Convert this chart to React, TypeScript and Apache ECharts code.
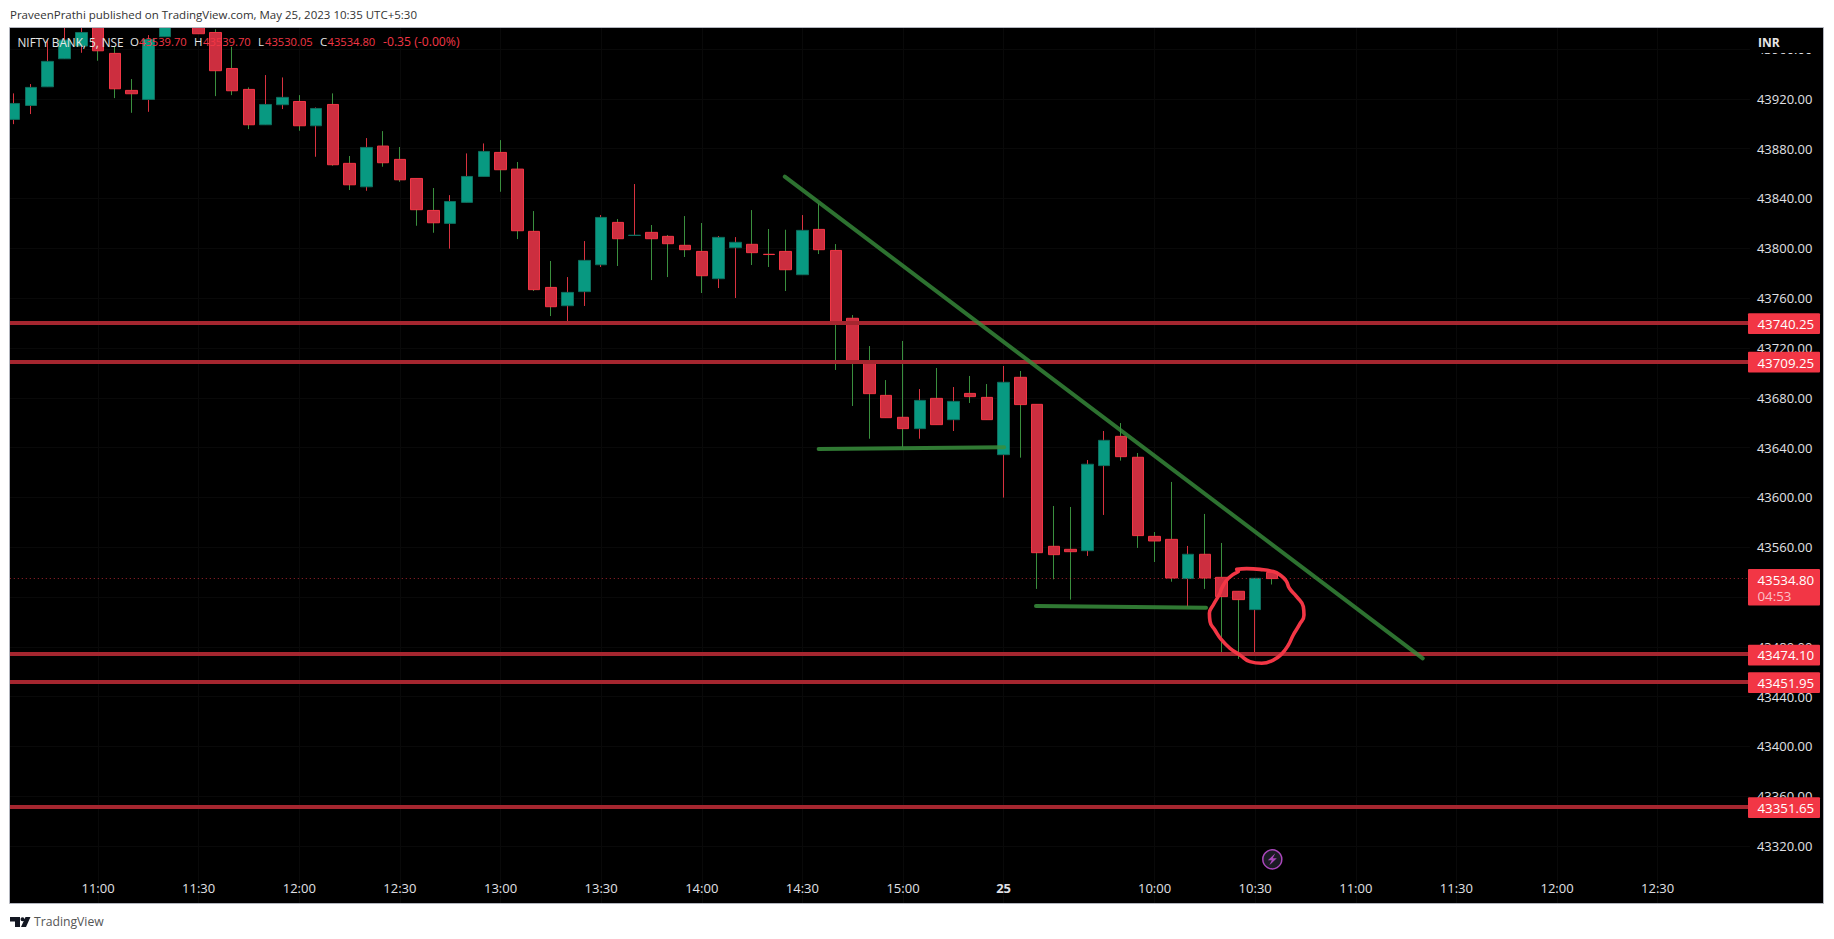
import { useEffect, useRef } from 'react';
import * as echarts from 'echarts';

const categories = [
  '10:35', '10:40', '10:45', '10:50', '10:55', '11:00', '11:05', '11:10', '11:15', '11:20', '11:25', '11:30',
  '11:35', '11:40', '11:45', '11:50', '11:55', '12:00', '12:05', '12:10', '12:15', '12:20', '12:25', '12:30',
  '12:35', '12:40', '12:45', '12:50', '12:55', '13:00', '13:05', '13:10', '13:15', '13:20', '13:25', '13:30',
  '13:35', '13:40', '13:45', '13:50', '13:55', '14:00', '14:05', '14:10', '14:15', '14:20', '14:25', '14:30',
  '14:35', '14:40', '14:45', '14:50', '14:55', '15:00', '15:05', '15:10', '15:15', '15:20', '15:25',
  '25', '09:20', '09:25', '09:30', '09:35', '09:40', '09:45', '09:50', '09:55', '10:00', '10:05', '10:10',
  '10:15', '10:20', '10:25', '10:30', '10:35', '10:40', '10:45', '10:50', '10:55', '11:00', '11:05', '11:10',
  '11:15', '11:20', '11:25', '11:30', '11:35', '11:40', '11:45', '11:50', '11:55', '12:00', '12:05', '12:10',
  '12:15', '12:20', '12:25', '12:30', '12:35', '12:40', '12:45', '12:50', '12:55',
];

const opens = [
  43903.5, 43914.7, 43929.7, 43952.2, 43962.4, 43990, 43956.5, 43926.8, 43919.5, 43969.9,
  44012, 43998, 43973.3, 43944.4, 43927.6, 43899.2, 43915.3, 43917.9, 43898.4, 43915.5,
  43868.2, 43849.4, 43882.1, 43871.4, 43856.1, 43830.4, 43820.0, 43836.9, 43857.7, 43877.0,
  43863.6, 43813.6, 43768.6, 43753.9, 43765.2, 43786.8, 43820.8, 43810.3, 43812.8, 43809.6,
  43802.4, 43797.5, 43775.6, 43800.5, 43803.2, 43795.2, 43797.5, 43778.8, 43815.2, 43798.3,
  43743.8, 43709.2, 43681.9, 43664.3, 43655.2, 43679.5, 43662.4, 43683.5, 43680.3, 43634.3,
  43696.4, 43674.7, 43560.7, 43558.3, 43557.2, 43625.5, 43649.0, 43632.2, 43568.7, 43566.3,
  43534.8, 43554.3, 43535.8, 43524.6, 43509.9, 43539.7,
];
const closes = [
  43916.3, 43929.2, 43950.1, 43967.2, 43973.3, 43958.6, 43928.1, 43924.1, 43967.7, 43992,
  43992, 43972.3, 43942.6, 43926.5, 43899.2, 43915.5, 43921.2, 43898.4, 43912.3, 43867.1,
  43851.0, 43881.0, 43868.7, 43855.0, 43831.0, 43820.5, 43837.6, 43857.7, 43877.8, 43863.1,
  43814.1, 43766.8, 43753.1, 43764.6, 43790.3, 43824.8, 43807.7, 43810.5, 43807.7, 43803.7,
  43798.9, 43778.0, 43808.8, 43804.8, 43796.5, 43795.0, 43782.8, 43814.4, 43798.9, 43741.1,
  43709.0, 43683.3, 43664.0, 43655.2, 43677.9, 43658.4, 43677.1, 43680.9, 43662.4, 43692.4,
  43674.5, 43555.6, 43554.0, 43556.4, 43626.6, 43645.8, 43632.7, 43569.3, 43565.0, 43535.3,
  43554.3, 43535.3, 43520.3, 43517.9, 43535.0, 43534.8,
];
const highs = [
  43924.4, 43931.9, 43967.2, 43985, 43981, 43996, 43962.4, 43935.9, 43971.2, 44002,
  44020, 44004, 43975.8, 43961.8, 43929.2, 43939.1, 43937.2, 43923.0, 43913.1, 43924.4,
  43874.1, 43888.5, 43894.1, 43881.3, 43856.1, 43848.4, 43842.7, 43876.2, 43884.2, 43886.9,
  43869.3, 43829.9, 43789.8, 43776.9, 43805.8, 43826.7, 43823.5, 43851.6, 43818.7, 43810.7,
  43825.9, 43820.3, 43809.9, 43809.0, 43830.7, 43815.5, 43814.9, 43826.7, 43836.1, 43803.4,
  43746.4, 43721.5, 43694.2, 43725.6, 43687.0, 43703.9, 43688.6, 43697.5, 43691.0, 43705.5,
  43701.5, 43674.7, 43593.1, 43592.3, 43630.0, 43653.3, 43659.7, 43635.6, 43572.2, 43612.4,
  43561.0, 43586.7, 43563.4, 43524.6, 43535.0, 43539.7,
];
const lows = [
  43899.7, 43907.8, 43929.7, 43952.2, 43957, 43950.6, 43920.6, 43908.8, 43909.6, 43969.9,
  43984, 43972.3, 43922.2, 43923.0, 43895.7, 43899.2, 43911.8, 43894.4, 43873.5, 43866.3,
  43846.8, 43846.2, 43865.5, 43853.4, 43818.1, 43812.5, 43799.7, 43836.9, 43857.7, 43845.4,
  43807.4, 43765.7, 43745.6, 43741.1, 43753.7, 43785.0, 43785.8, 43810.3, 43774.5, 43776.9,
  43793.0, 43764.1, 43768.1, 43760.1, 43786.6, 43785.0, 43765.7, 43778.8, 43795.4, 43702.3,
  43673.4, 43647.1, 43664.0, 43640.2, 43647.1, 43658.4, 43653.3, 43675.8, 43662.4, 43599.8,
  43631.9, 43526.5, 43534.2, 43517.9, 43553.0, 43585.9, 43629.5, 43559.4, 43548.1, 43532.3,
  43512.3, 43526.5, 43473.5, 43470.3, 43474.8, 43530.05,
];

const xTickLabels = [
  '11:00', '11:30', '12:00', '12:30', '13:00', '13:30', '14:00', '14:30', '15:00', '25', '10:00', '10:30',
];
const yTicks = [
  43320, 43360, 43400, 43440, 43480, 43520, 43560, 43600, 43640, 43680, 43720, 43760, 43800, 43840, 43880, 43920, 43960,
];
const priceLevels = [43740.25, 43709.25, 43474.1, 43451.95, 43351.65];
const lastPrice = 43534.8;
const countdown = '04:53';

// drawings: [bar slot, price]
const trendLine = [[45.95, 43857.5], [83.99, 43470.8]];
const supportA = [[47.97, 43638.9], [59.03, 43640.2]];
const supportB = [[60.93, 43512.8], [71.07, 43511.4]];
const handCircle = [
  [72.9, 43542.2], [73.49, 43542.8], [74.29, 43542.2], [75.08, 43540.4], [75.48, 43537.7], [75.84, 43533.1],
  [76.04, 43527.0], [76.47, 43520.3], [76.87, 43512.3], [76.91, 43505.6], [76.63, 43497.6], [76.27, 43489.5],
  [75.98, 43481.5], [75.58, 43474.3], [75.08, 43469.4], [74.39, 43466.8], [73.69, 43468.1], [73.09, 43473.5],
  [72.5, 43478.8], [72.0, 43485.5], [71.6, 43493.5], [71.31, 43500.2], [71.27, 43506.9], [71.5, 43513.6],
  [71.9, 43523.0], [72.0, 43527.0], [72.4, 43535.0], [72.99, 43540.4],
];

const legendParts = [
  { text: 'NIFTY BANK, 5, NSE', x: 17.5, color: '#e6e6e6', size: 11.75 },
  { text: 'O', x: 130, color: '#e6e6e6', size: 11.5 },
  { text: '43539.70', x: 139, color: '#f23645', size: 11.2 },
  { text: 'H', x: 194, color: '#e6e6e6', size: 11.5 },
  { text: '43539.70', x: 203, color: '#f23645', size: 11.2 },
  { text: 'L', x: 258, color: '#e6e6e6', size: 11.5 },
  { text: '43530.05', x: 265, color: '#f23645', size: 11.2 },
  { text: 'C', x: 320, color: '#e6e6e6', size: 11.5 },
  { text: '43534.80', x: 327.5, color: '#f23645', size: 11.2 },
  { text: '-0.35 (-0.00%)', x: 383, color: '#f23645', size: 12.2 },
];

echarts.graphic.registerShape(
  'tvLogo',
  echarts.graphic.extendPath('M0 0H10V10H5V4.5H0Z M14.5 2.2A2 2 0 1 1 10.5 2.2A2 2 0 1 1 14.5 2.2Z M15.5 0H20.5L16 10H11Z', {}),
);
echarts.graphic.registerShape(
  'bolt',
  echarts.graphic.extendPath('M3 -6L-4.5 1H-0.5L-3 6L4.5 -1H0.5Z', {}),
);

const FONT = '"Open Sans", sans-serif';
const labelText = '#e0e1e6';

const App = () => {
  const chartRef = useRef<HTMLDivElement>(null);

  useEffect(() => {
    if (!chartRef.current) return;
    document.body.style.margin = '0';
    const myChart = echarts.init(chartRef.current, null, { renderer: 'svg' });

    const isLabelled = (_: number, value: string) => xTickLabels.includes(value);

    const drawing = (data: number[][], color: string, width: number, opacity: number, smooth = false) => ({
      type: 'line',
      xAxisIndex: 1,
      yAxisIndex: 0,
      data,
      smooth,
      symbol: 'none',
      silent: true,
      clip: false,
      z: 6,
      lineStyle: { color, width, opacity, cap: 'round', join: 'round' },
    });

    const option = {
      animation: false,
      backgroundColor: '#ffffff',
      grid: { left: 5.8, width: 1744.1, top: 27.5, height: 875.5, containLabel: false },
      xAxis: [
        {
          type: 'category',
          data: categories,
          axisLine: { show: false },
          axisTick: { show: false },
          splitLine: { show: true, interval: isLabelled, alignWithLabel: true, lineStyle: { color: '#090909', width: 1 } },
          axisLabel: {
            inside: true,
            margin: 9,
            interval: isLabelled,
            color: labelText,
            fontFamily: FONT,
            fontSize: 13,
            formatter: (value: string) => (value === '25' ? '{b|25}' : value),
            rich: { b: { fontWeight: 'bold', color: labelText, fontFamily: FONT, fontSize: 13 } },
          },
        },
        { type: 'value', min: -0.5, max: 103.5, show: false },
      ],
      yAxis: {
        type: 'value',
        position: 'right',
        min: 43274.3,
        max: 43977.3,
        axisLine: { show: false },
        axisTick: { show: false, customValues: yTicks },
        splitLine: { show: true, lineStyle: { color: '#090909', width: 1 } },
        axisLabel: {
          customValues: yTicks,
          margin: 7,
          color: labelText,
          fontFamily: FONT,
          fontSize: 13,
          formatter: (value: number) => value.toFixed(2),
        },
      },
      series: [
        {
          // wicks: colour is the opposite of the body on this chart
          type: 'candlestick',
          barWidth: 1,
          z: 2,
          silent: true,
          data: opens.map((o, i) => [o, closes[i], lows[i], highs[i]]),
          itemStyle: {
            color: 'transparent',
            color0: 'transparent',
            borderColor: '#d8323f',
            borderColor0: '#3a8f3e',
            borderWidth: 1,
          },
          markLine: {
            silent: true,
            symbol: 'none',
            label: { show: false },
            data: [
              ...priceLevels.map((p) => ({ yAxis: p, lineStyle: { color: '#a5262f', width: 4, type: 'solid' } })),
              { yAxis: lastPrice, lineStyle: { color: '#f23645', width: 1, opacity: 0.65, type: [1, 3] } },
            ],
          },
        },
        {
          type: 'candlestick',
          barWidth: 12,
          z: 3,
          silent: true,
          data: opens.map((o, i) => [o, closes[i], Math.min(o, closes[i]), Math.max(o, closes[i])]),
          itemStyle: {
            color: '#089981',
            color0: '#cc2e3f',
            borderColor: '#0f6e5e',
            borderColor0: '#f23645',
            borderWidth: 1,
          },
        },
        drawing(trendLine, '#388e3c', 4, 0.8),
        drawing(supportA, '#388e3c', 4, 0.85),
        drawing(supportB, '#388e3c', 4, 0.85),
        drawing(handCircle, '#f23645', 3.6, 1, true),
        {
          type: 'custom',
          xAxisIndex: 0,
          yAxisIndex: 0,
          z: 20,
          silent: true,
          clip: false,
          data: [...priceLevels.map((p) => [0, p]), [0, lastPrice]],
          renderItem: (_: any, api: any) => {
            const price = api.value(1);
            const y = api.coord([0, price])[1];
            const isLast = price === lastPrice;
            const font = `13.3px ${FONT}`;
            const children: any[] = [
              {
                type: 'rect',
                shape: { x: 1748, y: isLast ? y - 9.6 : y - 9.5, width: 72, height: isLast ? 36.6 : 20.8, r: 1 },
                style: { fill: '#f23645' },
              },
              {
                type: 'text',
                x: 1757.5,
                y: y + 1.2,
                style: { text: price.toFixed(2), fill: '#ffffff', font, verticalAlign: 'middle' },
              },
            ];
            if (isLast) {
              children.push({
                type: 'text',
                x: 1757.5,
                y: y + 17.5,
                style: { text: countdown, fill: '#fbc1c7', font, verticalAlign: 'middle' },
              });
            }
            return { type: 'group', children };
          },
        },
      ],
      graphic: [
        // black pane, under everything
        { type: 'rect', z: -10, shape: { x: 9.5, y: 27.5, width: 1814, height: 876 }, style: { fill: '#000000' } },
        // white margins hide the parts of the bars outside the pane
        { type: 'rect', z: 60, shape: { x: 0, y: 0, width: 1834, height: 27.5 }, style: { fill: '#ffffff' } },
        { type: 'rect', z: 60, shape: { x: 0, y: 27, width: 9.5, height: 877 }, style: { fill: '#ffffff' } },
        // INR header sits on top of the clipped 43960 label
        { type: 'rect', z: 60, shape: { x: 1750, y: 28, width: 72, height: 25 }, style: { fill: '#000000' } },
        {
          type: 'rect',
          z: 61,
          shape: { x: 9.5, y: 27.5, width: 1814, height: 876 },
          style: { fill: 'none', stroke: '#b2b5be', lineWidth: 1 },
        },
        {
          type: 'text',
          z: 70,
          x: 1758,
          y: 42.5,
          style: { text: 'INR', fill: '#e6e6e6', font: `bold 12px ${FONT}`, verticalAlign: 'middle' },
        },
        {
          type: 'text',
          z: 70,
          x: 10,
          y: 14.7,
          style: {
            text: 'PraveenPrathi published on TradingView.com, May 25, 2023 10:35 UTC+5:30',
            fill: '#333333',
            font: `11.5px ${FONT}`,
            verticalAlign: 'middle',
          },
        },
        ...legendParts.map((part) => ({
          type: 'text',
          z: 70,
          x: part.x,
          y: 41.7,
          style: { text: part.text, fill: part.color, font: `${part.size}px ${FONT}`, verticalAlign: 'middle' },
        })),
        // lightning marker
        {
          type: 'circle',
          z: 30,
          shape: { cx: 1272.3, cy: 859.3, r: 9.5 },
          style: { fill: '#1b1b24', stroke: '#ab47bc', lineWidth: 1.5 },
        },
        { type: 'bolt', z: 31, x: 1272.3, y: 859.3, style: { fill: '#ab47bc' } },
        // footer
        { type: 'tvLogo', z: 70, x: 10, y: 917, style: { fill: '#131722' } },
        {
          type: 'text',
          z: 70,
          x: 34,
          y: 921.7,
          style: { text: 'TradingView', fill: '#555555', font: `12.2px ${FONT}`, verticalAlign: 'middle' },
        },
      ],
    };

    myChart.setOption(option as any);

    return () => {
      myChart.dispose();
    };
  }, []);

  return <div ref={chartRef} style={{ position: 'fixed', left: 0, top: 0, width: 1834, height: 939 }} />;
};

export default App;
